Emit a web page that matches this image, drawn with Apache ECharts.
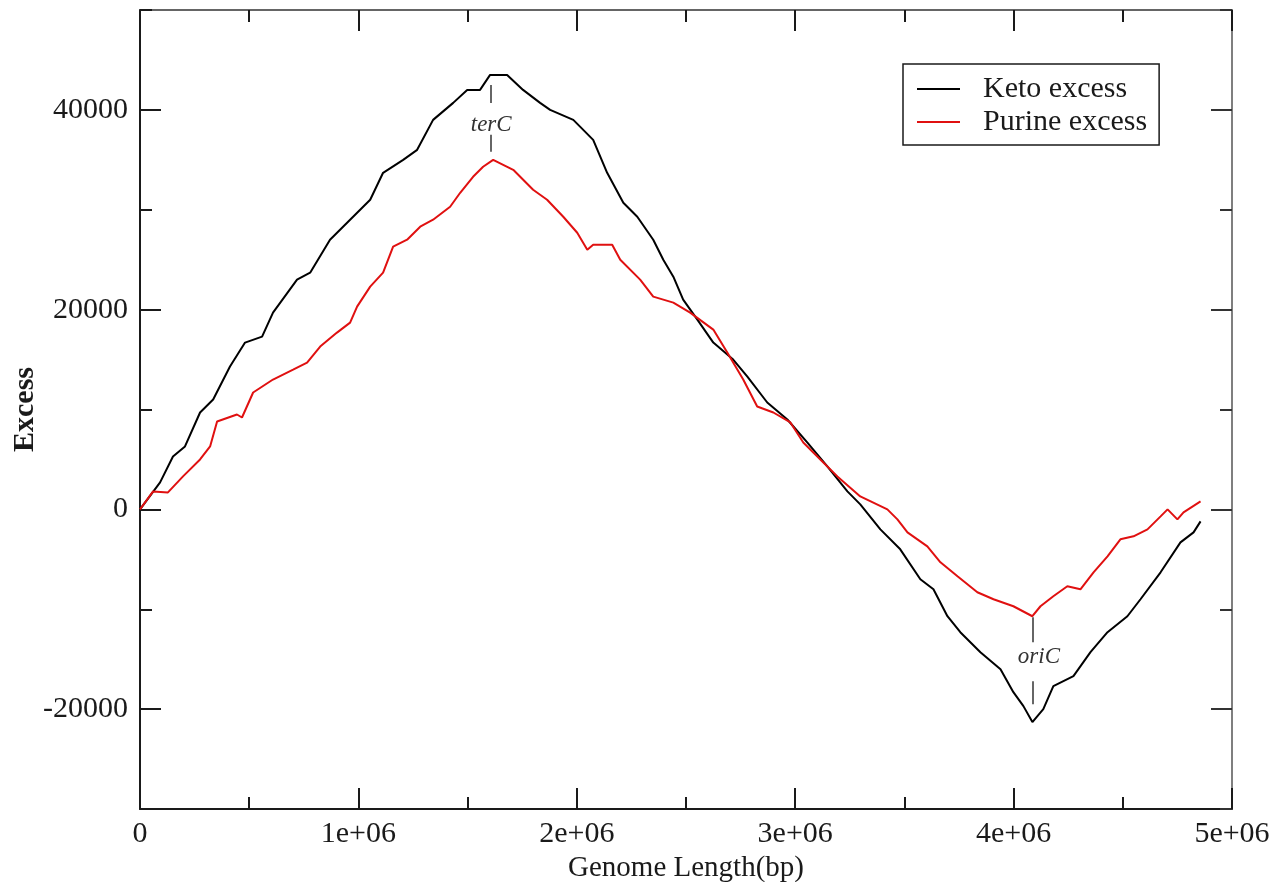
<!DOCTYPE html>
<html>
<head>
<meta charset="utf-8">
<script src="https://cdn.jsdelivr.net/npm/echarts@6/dist/echarts.min.js"></script>
<style>
  html, body { margin: 0; padding: 0; background: #fff; }
  #main { width: 1273px; height: 882px; }
</style>
</head>
<body>
<div id="main"></div>
<script>
// genome position (bp) and cumulative excess
var ketoX = [0, 92000, 151000, 206000, 275000, 335000, 412000, 481000, 559000, 609000,
  719000, 779000, 870000, 962000, 1054000, 1113000, 1205000, 1269000, 1342000, 1434000,
  1498000, 1557000, 1603000, 1681000, 1754000, 1832000, 1878000, 1984000, 2016000, 2075000,
  2139000, 2213000, 2277000, 2350000, 2396000, 2442000, 2487000, 2552000, 2625000, 2716000,
  2781000, 2872000, 2964000, 3055000, 3147000, 3239000, 3298000, 3390000, 3481000, 3573000,
  3633000, 3697000, 3756000, 3848000, 3940000, 3999000, 4045000, 4086000, 4136000, 4182000,
  4274000, 4352000, 4430000, 4521000, 4581000, 4673000, 4764000, 4824000, 4856000];
var ketoY = [0, 2700, 5300, 6300, 9700, 11000, 14300, 16700, 17300, 19700,
  23000, 23700, 27000, 29000, 31000, 33700, 35000, 36000, 39000, 40700,
  42000, 42000, 43500, 43500, 42000, 40700, 40000, 39000, 38300, 37000,
  33700, 30700, 29300, 27000, 25000, 23300, 21000, 19000, 16700, 15000,
  13300, 10700, 9000, 6700, 4300, 1800, 500, -2000, -4000, -7000,
  -8000, -10700, -12300, -14300, -16000, -18300, -19700, -21300, -20000, -17700,
  -16700, -14300, -12300, -10700, -9000, -6300, -3300, -2300, -1200];

var purineX = [0, 60000, 128000, 197000, 275000, 321000, 353000, 444000, 467000, 518000,
  609000, 701000, 765000, 825000, 902000, 962000, 994000, 1054000, 1113000, 1159000,
  1223000, 1283000, 1342000, 1420000, 1466000, 1525000, 1571000, 1617000, 1709000, 1800000,
  1864000, 1938000, 2002000, 2048000, 2075000, 2162000, 2199000, 2290000, 2350000, 2442000,
  2519000, 2625000, 2689000, 2762000, 2826000, 2900000, 2978000, 3037000, 3115000, 3193000,
  3298000, 3422000, 3468000, 3514000, 3605000, 3665000, 3743000, 3834000, 3908000, 3999000,
  4086000, 4123000, 4182000, 4246000, 4306000, 4366000, 4430000, 4489000, 4549000, 4613000,
  4673000, 4705000, 4750000, 4778000, 4856000];
var purineY = [0, 1800, 1700, 3300, 5000, 6300, 8800, 9500, 9200, 11700,
  13000, 14000, 14700, 16300, 17700, 18700, 20300, 22300, 23700, 26300,
  27000, 28300, 29000, 30300, 31700, 33300, 34300, 35000, 34000, 32000,
  31000, 29300, 27700, 26000, 26500, 26500, 25000, 23000, 21300, 20700,
  19700, 18000, 15700, 13000, 10300, 9700, 8700, 6700, 5000, 3300,
  1300, 0, -1000, -2300, -3700, -5300, -6700, -8300, -9000, -9700,
  -10700, -9700, -8700, -7700, -8000, -6300, -4700, -3000, -2700, -2000,
  -700, 0, -1000, -300, 800];

var seriesNames = ['Keto excess', 'Purine excess'];
var yMajorTicks = [-20000, 0, 20000, 40000];

// terC / oriC markers: [x, top of upper dash, bottom of upper dash, label y, top of lower dash, bottom of lower dash]
var terC = [1608000, 42500, 40700, 38500, 37500, 35800];
var oriC = [4086000, -10800, -13300, -14800, -17200, -19500];

function pairs(xs, ys) {
  var out = [];
  for (var i = 0; i < xs.length; i++) out.push([xs[i], ys[i]]);
  return out;
}

var font = 'Liberation Serif';
var ink = '#1a1a1a';

var myChart = echarts.init(document.getElementById('main'));

var xBase = {
  type: 'value', min: 0, max: 5000000, interval: 1000000,
  axisLine: { show: true, onZero: false, lineStyle: { color: ink, width: 2 } },
  axisTick: { show: true, inside: true, length: 21, lineStyle: { color: ink, width: 2 } },
  minorTick: { show: true, splitNumber: 2, length: 12, lineStyle: { color: ink, width: 2 } },
  splitLine: { show: false },
  minorSplitLine: { show: false }
};

myChart.setOption({
  animation: false,
  backgroundColor: '#fff',
  grid: { left: 140, right: 41, top: 10, bottom: 73, outerBoundsMode: 'none', containLabel: false },
  legend: {
    data: seriesNames,
    orient: 'vertical',
    left: 903, top: 64,
    backgroundColor: '#fff',
    borderColor: ink, borderWidth: 1.5, borderRadius: 0,
    padding: [10, 12, 8, 14],
    itemGap: 3,
    itemWidth: 43, itemHeight: 2,
    icon: 'rect',
    textStyle: { fontFamily: font, fontSize: 30, color: ink, padding: [0, 0, 0, 18] }
  },
  xAxis: [
    Object.assign({}, xBase, {
      position: 'bottom',
      name: 'Genome Length(bp)',
      nameLocation: 'middle',
      nameGap: 44,
      nameTextStyle: { fontFamily: font, fontSize: 29, color: ink },
      axisLabel: {
        margin: 10, fontFamily: font, fontSize: 30, color: ink,
        formatter: function (v) { return v === 0 ? '0' : (v / 1000000) + 'e+06'; }
      }
    }),
    Object.assign({}, xBase, {
      position: 'top',
      axisLine: { show: true, onZero: false, lineStyle: { color: '#333', width: 1.5 } },
      axisLabel: { show: false }
    })
  ],
  yAxis: [
    {
      type: 'value', min: -30000, max: 50000, interval: 10000, position: 'left',
      name: 'Excess', nameLocation: 'middle', nameGap: 100, nameRotate: 90,
      nameTextStyle: { fontFamily: font, fontSize: 30, fontWeight: 'bold', color: ink },
      axisLine: { show: true, onZero: false, lineStyle: { color: ink, width: 2 } },
      axisTick: { show: true, inside: true, length: 12, lineStyle: { color: ink, width: 2 } },
      axisLabel: { show: false },
      splitLine: { show: false }
    },
    {
      type: 'value', min: -30000, max: 50000, interval: 10000, position: 'left',
      axisLine: { show: false, onZero: false },
      axisTick: { show: true, inside: true, length: 21, customValues: yMajorTicks, lineStyle: { color: ink, width: 2 } },
      axisLabel: {
        customValues: yMajorTicks, margin: 12, fontFamily: font, fontSize: 30, color: ink,
        formatter: function (v) { return String(v); }
      },
      splitLine: { show: false }
    },
    {
      type: 'value', min: -30000, max: 50000, interval: 10000, position: 'right',
      axisLine: { show: true, onZero: false, lineStyle: { color: '#555', width: 1.5 } },
      axisTick: { show: true, inside: true, length: 12, lineStyle: { color: '#333', width: 2 } },
      axisLabel: { show: false },
      splitLine: { show: false }
    },
    {
      type: 'value', min: -30000, max: 50000, interval: 10000, position: 'right',
      axisLine: { show: false, onZero: false },
      axisTick: { show: true, inside: true, length: 21, customValues: yMajorTicks, lineStyle: { color: '#333', width: 2 } },
      axisLabel: { show: false },
      splitLine: { show: false }
    }
  ],
  series: [
    {
      name: seriesNames[0], type: 'line', xAxisIndex: 0, yAxisIndex: 0,
      data: pairs(ketoX, ketoY),
      symbol: 'none', showSymbol: false,
      color: '#000',
      lineStyle: { color: '#000', width: 2 },
      markLine: {
        silent: true, symbol: ['none', 'none'],
        label: { show: false },
        lineStyle: { color: '#333', width: 1.5, type: 'solid' },
        data: [
          [{ coord: [terC[0], terC[1]] }, { coord: [terC[0], terC[2]] }],
          [{ coord: [terC[0], terC[4]] }, { coord: [terC[0], terC[5]] }],
          [{ coord: [oriC[0], oriC[1]] }, { coord: [oriC[0], oriC[2]] }],
          [{ coord: [oriC[0], oriC[4]] }, { coord: [oriC[0], oriC[5]] }]
        ]
      },
      markPoint: {
        silent: true, symbol: 'circle', symbolSize: 0,
        label: {
          show: true, position: 'inside', formatter: '{b}',
          fontFamily: font, fontSize: 23, fontStyle: 'italic', color: '#333'
        },
        data: [
          { name: 'terC', coord: [terC[0], terC[3]] },
          { name: 'oriC', coord: [oriC[0] + 30000, oriC[3]] }
        ]
      }
    },
    {
      name: seriesNames[1], type: 'line', xAxisIndex: 0, yAxisIndex: 0,
      data: pairs(purineX, purineY),
      symbol: 'none', showSymbol: false,
      color: '#e01010',
      lineStyle: { color: '#e01010', width: 2 }
    }
  ]
});
</script>
</body>
</html>
